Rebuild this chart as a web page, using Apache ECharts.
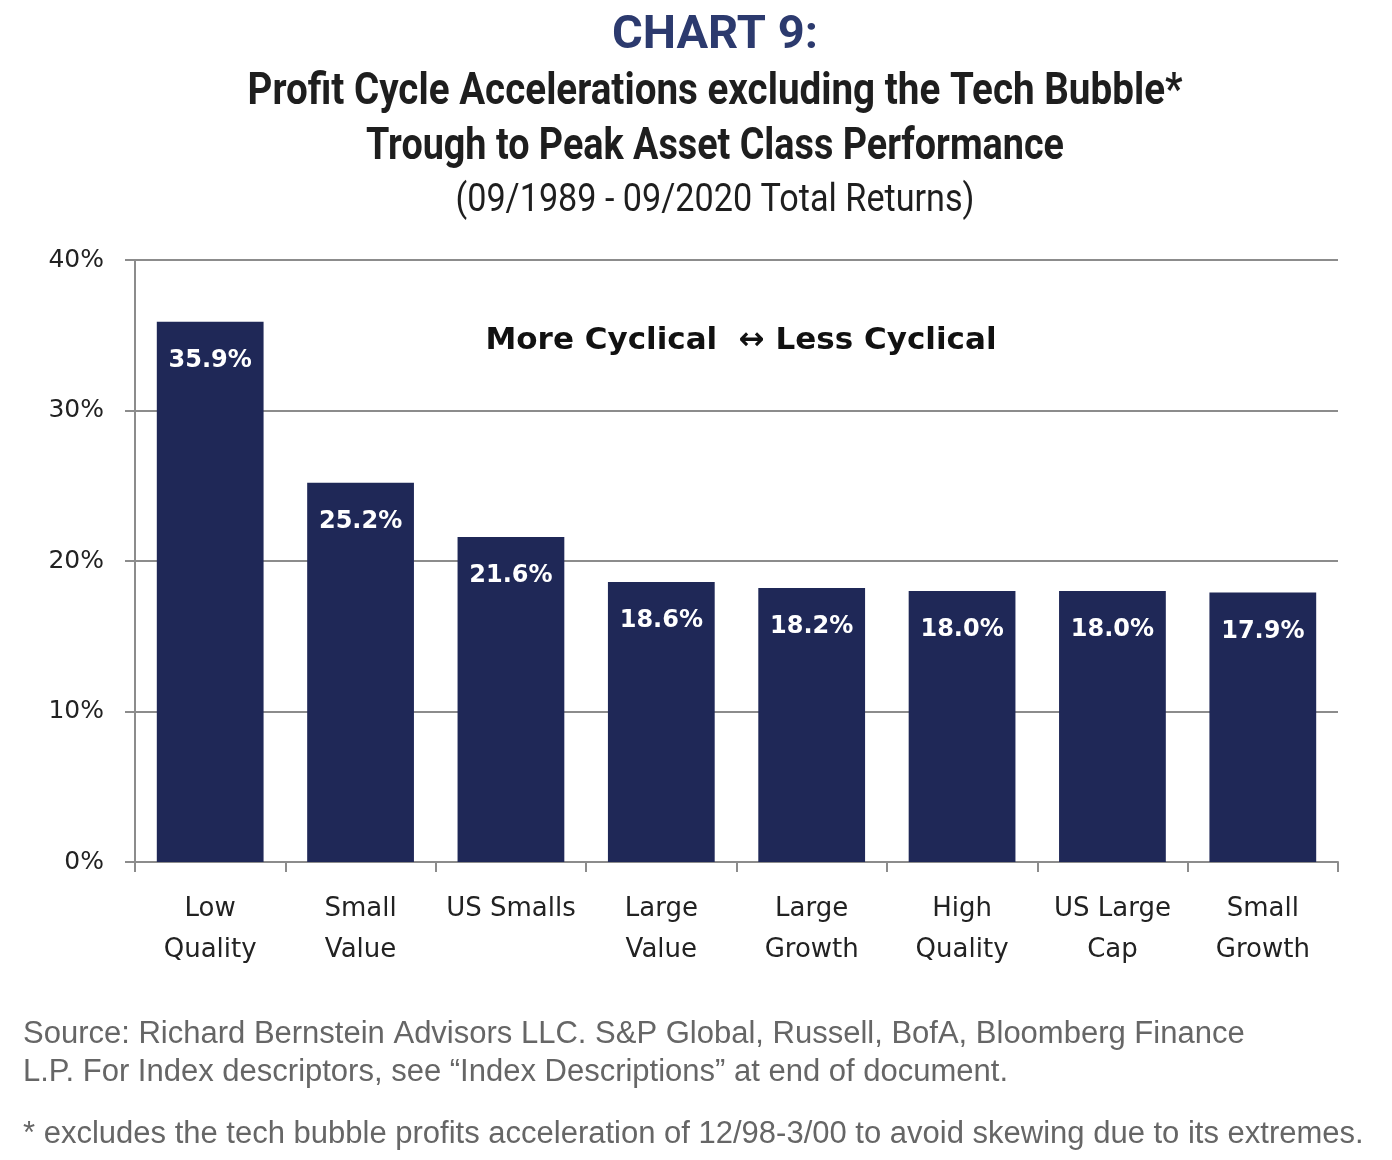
<!DOCTYPE html>
<html><head><meta charset="utf-8">
<script src="https://cdn.jsdelivr.net/npm/echarts@6/dist/echarts.min.js"></script>
<style>html,body{margin:0;padding:0;background:#fff}#c{width:1392px;height:1160px}</style>
</head><body><div id="c"></div>
<script>
const categories = ['Low\nQuality', 'Small\nValue', 'US Smalls', 'Large\nValue', 'Large\nGrowth', 'High\nQuality', 'US Large\nCap', 'Small\nGrowth'];
const values = [35.9, 25.2, 21.6, 18.6, 18.2, 18.0, 18.0, 17.9];
const yTicks = [0, 10, 20, 30, 40];
const titleLines = ['CHART 9:', 'Profit Cycle Accelerations excluding the Tech Bubble*', 'Trough to Peak Asset Class Performance', '(09/1989 - 09/2020 Total Returns)'];

const chartFont = '"DejaVu Sans", Verdana, sans-serif';
const ctx = document.createElement('canvas').getContext('2d');
function condensedText(text, font, targetW, y, fill) {
  ctx.font = font;
  const w = ctx.measureText(text).width;
  return {type: 'text', x: 715, y: y, scaleX: targetW / w, scaleY: 1,
    style: {text: text, font: font, fill: fill, textAlign: 'center', textVerticalAlign: 'middle'}};
}

const chart = echarts.init(document.getElementById('c'));
chart.setOption({
  animation: false,
  graphic: [
    condensedText(titleLines[0], 'bold 47px Roboto', 206, 36, '#2c3a6e'),
    condensedText(titleLines[1], 'bold 45px Roboto', 935, 93, '#1e1e1e'),
    condensedText(titleLines[2], 'bold 45px Roboto', 698, 148, '#1e1e1e'),
    condensedText(titleLines[3], 'normal 38px Roboto', 519, 201, '#1e1e1e')
  ],
  title: [
    {text: 'More Cyclical  \u2194 Less Cyclical', left: 736, textAlign: 'center', top: 320, textStyle: {fontFamily: chartFont, fontWeight: 'bold', fontSize: 31, color: '#111'}},
    {text: 'Source: Richard Bernstein Advisors LLC. S&P Global, Russell, BofA, Bloomberg Finance\nL.P. For Index descriptors, see \u201cIndex Descriptions\u201d at end of document.', left: 18, top: 1010, textStyle: {fontFamily: '"Liberation Sans", Arial, sans-serif', fontWeight: 'normal', fontSize: 31, lineHeight: 38, color: '#666'}},
    {text: '* excludes the tech bubble profits acceleration of 12/98-3/00 to avoid skewing due to its extremes.', left: 18, top: 1114, textStyle: {fontFamily: '"Liberation Sans", Arial, sans-serif', fontWeight: 'normal', fontSize: 31, color: '#666'}}
  ],
  grid: {left: 135, right: 54, top: 260, bottom: 298, containLabel: false},
  xAxis: {
    type: 'category', data: categories,
    axisLine: {lineStyle: {color: '#8c8c8c', width: 2}},
    axisTick: {show: true, length: 10, lineStyle: {color: '#8c8c8c', width: 2}},
    axisLabel: {margin: 27, fontFamily: chartFont, fontSize: 26, lineHeight: 41, color: '#222', interval: 0}
  },
  yAxis: {
    type: 'value', min: yTicks[0], max: yTicks[yTicks.length - 1], interval: 10,
    axisLine: {show: true, lineStyle: {color: '#8c8c8c', width: 2}},
    axisTick: {show: true, length: 10, lineStyle: {color: '#8c8c8c', width: 2}},
    splitLine: {lineStyle: {color: '#8c8c8c', width: 2}},
    axisLabel: {margin: 31, fontFamily: chartFont, fontSize: 25, color: '#222', padding: [5, 0, 0, 0], formatter: '{value}%'}
  },
  series: [{
    type: 'bar', data: values, barCategoryGap: '29%',
    itemStyle: {color: '#1f2857'},
    label: {show: true, position: 'insideTop', distance: 27, color: '#fff', fontFamily: chartFont, fontWeight: 'bold', fontSize: 24,
      formatter: p => p.value.toFixed(1) + '%'}
  }]
});
</script></body></html>
